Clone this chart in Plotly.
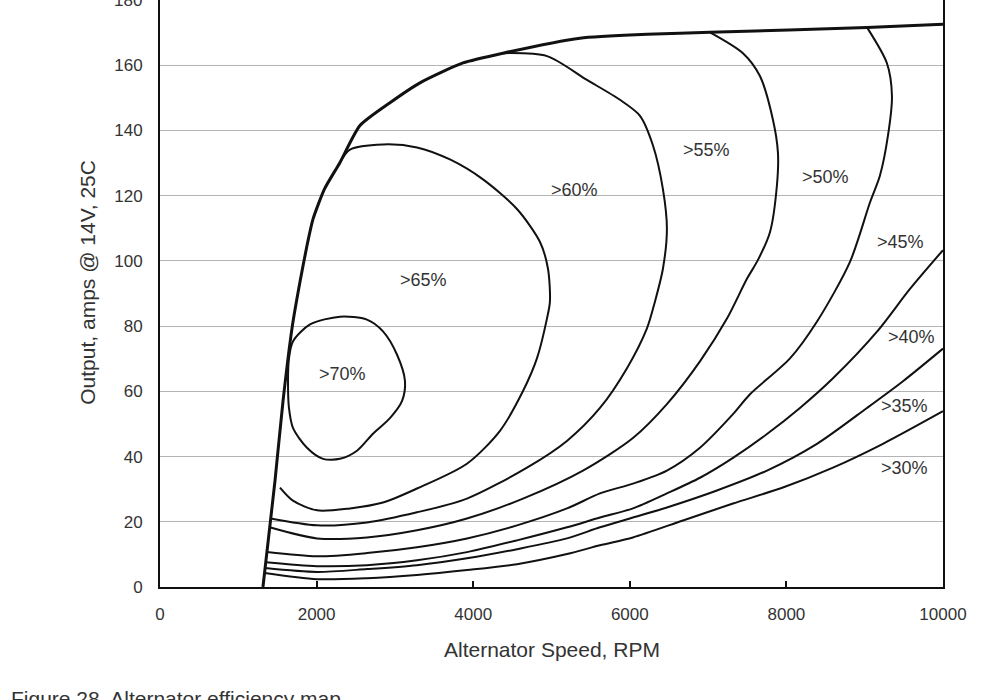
import plotly.graph_objects as go

# ---------------- data (rpm, amps) ----------------
boundary_rpm = [1315, 1469, 1571, 1690, 1788, 1880, 1954, 2100, 2299, 2554, 2937, 3320, 3869, 4380, 5363, 6219, 7024, 9028, 10000]
boundary_amp = [0, 32.6, 57, 80, 93.6, 105, 112.8, 122, 130.2, 141.5, 148.5, 154.6, 160.7, 163.7, 168.3, 169.5, 170.1, 171.6, 172.6]

c70_rpm = [1647, 1698, 1916, 2299, 2643, 2848, 3026, 3129, 3090, 2937, 2720, 2516, 2299, 2082, 1877, 1698, 1647, 1635, 1647]
c70_amp = [70.1, 75.3, 80.5, 82.9, 82.0, 78.4, 71.3, 63.1, 57.0, 51.8, 47.0, 41.8, 39.3, 39.3, 42.7, 48.8, 54.9, 63.1, 70.1]

c65_rpm = [2299, 2426, 2848, 3282, 3703, 4125, 4559, 4853, 4955, 4980, 4942, 4814, 4636, 4342, 3920, 3282, 2848, 2426, 2005, 1698, 1532]
c65_amp = [130.2, 134.1, 135.7, 134.8, 131.1, 125.0, 115.9, 105.8, 97.6, 87.5, 82.3, 70.1, 60.1, 47.9, 37.8, 30.2, 25.9, 24.1, 23.5, 26.5, 30.5]

c60_rpm = [4380, 4942, 5453, 5874, 6130, 6296, 6423, 6474, 6423, 6321, 6219, 5964, 5619, 5197, 4687, 3920, 3282, 2643, 2005, 1414]
c60_amp = [163.7, 162.8, 155.5, 149.4, 144.5, 135.4, 122.0, 109.8, 97.6, 87.5, 79.3, 67.1, 54.9, 44.8, 36.6, 27.1, 22.9, 19.8, 18.9, 21.0]

c55_rpm = [7024, 7445, 7662, 7828, 7892, 7879, 7790, 7637, 7496, 7241, 6896, 6474, 6040, 5402, 4636, 3920, 3282, 2643, 2005, 1400]
c55_amp = [170.1, 163.7, 156.7, 143.3, 133.2, 123.2, 108.8, 100.3, 94.5, 82.3, 69.2, 56.1, 45.7, 35.7, 27.1, 21.0, 17.4, 15.2, 14.9, 18.3]

c50_rpm = [9029, 9284, 9348, 9297, 9195, 9067, 8812, 8391, 8046, 7535, 7318, 6896, 6474, 6040, 5619, 5198, 4559, 3921, 3282, 2644, 2005, 1366]
c50_amp = [171.6, 160.6, 150.6, 138.4, 126.2, 117.9, 99.7, 81.4, 70.1, 59.1, 53.0, 42.7, 35.7, 31.7, 28.7, 24.1, 18.9, 14.9, 12.2, 10.4, 9.4, 10.7]

c45_rpm = [10000, 9578, 9157, 8595, 8173, 7752, 7318, 6896, 6474, 6040, 5619, 5198, 4559, 3921, 3282, 2644, 2005, 1352]
c45_amp = [103.3, 91.4, 78.3, 64.0, 54.9, 46.9, 39.6, 33.5, 28.7, 24.1, 21.3, 18.3, 14.3, 10.7, 8.2, 6.7, 6.4, 7.6]

c40_rpm = [10000, 9489, 9029, 8390, 7752, 7113, 6474, 6040, 5619, 5198, 4559, 3921, 3282, 2644, 2005, 1343]
c40_amp = [73.1, 63.1, 54.9, 43.9, 35.7, 29.6, 24.4, 21.3, 18.3, 14.9, 11.6, 8.8, 6.7, 5.5, 4.6, 5.8]

c35_rpm = [10000, 9233, 8595, 7956, 7318, 6679, 6040, 5619, 5198, 4559, 3921, 3282, 2644, 2005, 1336]
c35_amp = [53.9, 43.9, 36.6, 30.5, 25.6, 20.4, 15.2, 12.8, 10.1, 7.0, 5.2, 3.7, 2.7, 2.4, 4.3]

label_text = [">70%", ">65%", ">60%", ">55%", ">50%", ">45%", ">40%", ">35%", ">30%"]
label_rpm = [2337, 3371, 5300, 6985, 8505, 9463, 9604, 9513, 9513]
label_amp = [65.2, 94.2, 121.6, 134.1, 125.6, 105.8, 76.8, 55.5, 36.6]

x_ticks = [0, 2000, 4000, 6000, 8000, 10000]
y_ticks = [0, 20, 40, 60, 80, 100, 120, 140, 160]
y_top = 180

# ---------------- figure ----------------
FONT = "Arial, Liberation Sans, sans-serif"
fig = go.Figure()

contours = [
    (c70_rpm, c70_amp), (c65_rpm, c65_amp), (c60_rpm, c60_amp), (c55_rpm, c55_amp),
    (c50_rpm, c50_amp), (c45_rpm, c45_amp), (c40_rpm, c40_amp), (c35_rpm, c35_amp),
]
for xs, ys in contours:
    fig.add_trace(go.Scatter(x=xs, y=ys, mode="lines",
                             line=dict(color="#111111", width=2, shape="spline", smoothing=0.8),
                             hoverinfo="skip", showlegend=False))

fig.add_trace(go.Scatter(x=boundary_rpm, y=boundary_amp, mode="lines",
                         line=dict(color="#111111", width=3, shape="spline", smoothing=0.6),
                         hoverinfo="skip", showlegend=False))

for t, xr, ya in zip(label_text, label_rpm, label_amp):
    fig.add_annotation(x=xr, y=ya, xref="x", yref="y", text=t, showarrow=False,
                       font=dict(family=FONT, size=18, color="#333333"))

# top tick label (half cut off by the page edge, as in the reference)
fig.add_annotation(x=-0.0205, y=y_top, xref="paper", yref="y", text=str(y_top), showarrow=False,
                   xanchor="right", yanchor="middle",
                   font=dict(family=FONT, size=17, color="#333333"))

# axis titles and caption
fig.add_annotation(x=0.5, y=-0.107, xref="paper", yref="paper", text="Alternator Speed, RPM",
                   showarrow=False, xanchor="center", yanchor="middle",
                   font=dict(family=FONT, size=21, color="#333333"))
fig.add_annotation(x=-0.092, y=0.52, xref="paper", yref="paper", text="Output, amps @ 14V, 25C",
                   showarrow=False, textangle=-90, xanchor="center", yanchor="middle",
                   font=dict(family=FONT, size=21, color="#333333"))
fig.add_annotation(x=-0.193, y=-0.19, xref="paper", yref="paper", text="Figure 28. Alternator efficiency map",
                   showarrow=False, xanchor="left", yanchor="middle",
                   font=dict(family=FONT, size=21, color="#333333"))

fig.update_layout(
    width=1000, height=700,
    margin=dict(l=160, r=57, t=0, b=113),
    paper_bgcolor="white", plot_bgcolor="white",
    showlegend=False,
    xaxis=dict(range=[0, 10000], tickvals=x_ticks, ticktext=[str(v) for v in x_ticks],
               showgrid=False, zeroline=False, showline=True, linecolor="#111111", linewidth=2,
               ticks="inside", ticklen=6, tickwidth=1.5, tickcolor="#111111",
               ticklabelstandoff=11,
               tickfont=dict(family=FONT, size=17, color="#333333")),
    yaxis=dict(range=[0, y_top], tickvals=y_ticks, ticktext=[str(v) for v in y_ticks],
               showgrid=True, gridcolor="#b4b4b4", gridwidth=1, zeroline=False,
               showline=True, linecolor="#111111", linewidth=2, mirror=True,
               ticks="", ticklabelstandoff=12,
               tickfont=dict(family=FONT, size=17, color="#333333")),
)

fig.write_html("out.html")
